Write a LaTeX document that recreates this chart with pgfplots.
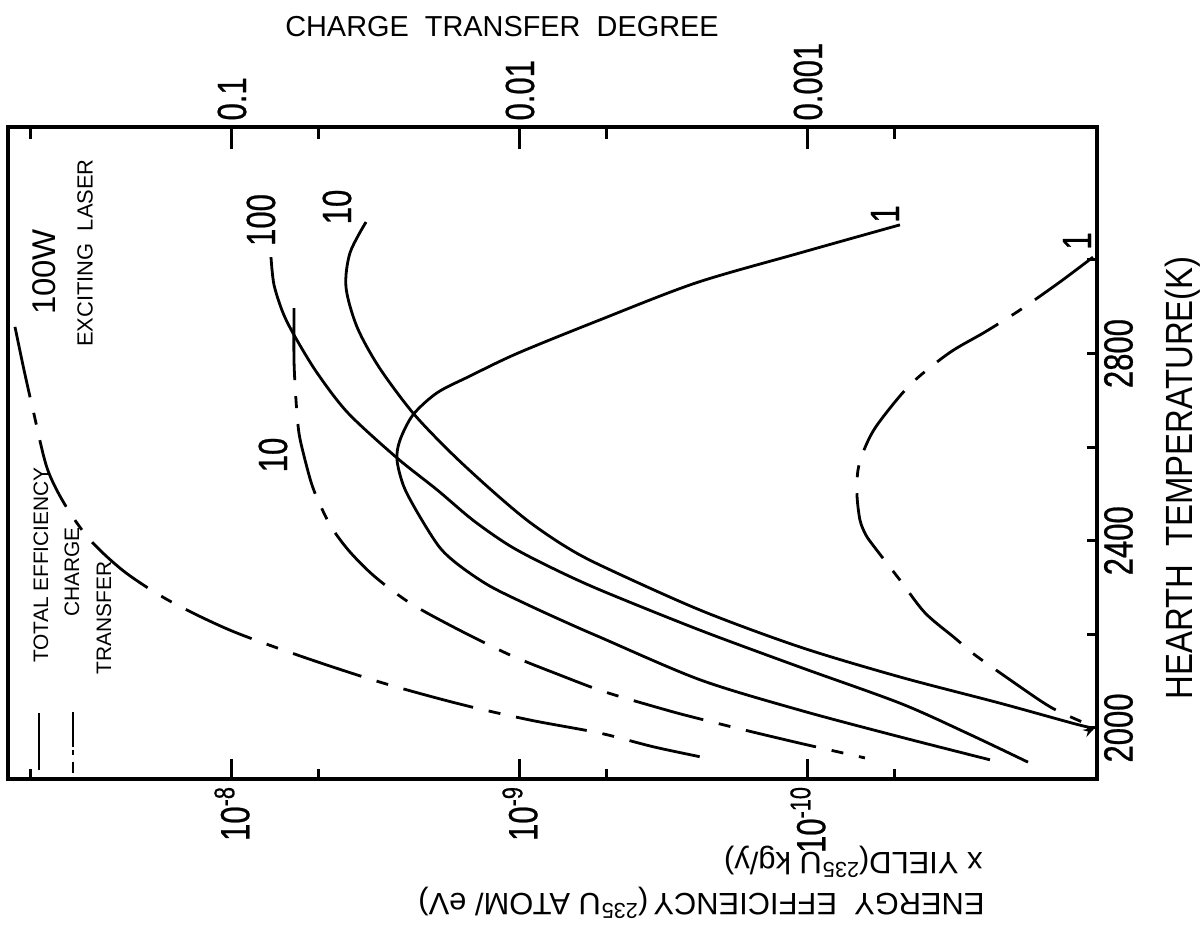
\documentclass[border=0pt]{standalone}
\usepackage{fontspec}
\setmainfont{Liberation Sans}
\newfontfamily\numfont{Liberation Sans}[FakeStretch=0.76, FakeBold=0.6]
\newfontfamily\condfont{Liberation Sans}[FakeStretch=0.87]
\usepackage{pgfplots}
\pgfplotsset{compat=1.18}
\usetikzlibrary{arrows.meta}

\newcommand\numsize{\numfont\fontsize{20.5}{22}\selectfont}

% x values are log10 of (energy efficiency x yield); y values are hearth temperature in K.
% The whole figure is laid out turned a quarter turn: temperature runs up the right side.
\pgfplotsset{
  frame/.style={
    at={(4bp,79.5bp)}, anchor=south west, scale only axis,
    width=544.5bp, height=325.75bp,
    x dir=reverse, tick align=inside,
    axis line style={line width=2bp},
    every tick/.style={black, line width=1.5bp},
  },
  curve/.style={black, line width=1.4bp, smooth, tension=0.5, mark=none},
  dashdot/.style={curve, dash pattern=on 36bp off 8bp on 6bp off 8bp},
}

\begin{document}
\begin{tikzpicture}
\useasboundingbox (0,0) rectangle (600.5bp,469bp);

% energy efficiency scale (bottom)
\begin{axis}[frame,
  xmin=-11.0035, xmax=-7.2222, ymin=0, ymax=1,
  ytick=\empty, xtick pos=left,
  xtick={-10,-9,-8},
  xticklabels={10\textsuperscript{-10},10\textsuperscript{-9},10\textsuperscript{-8}},
  minor xtick={-10.301,-9.301,-8.301,-7.301},
  major tick length=10bp, minor tick length=5bp,
  xticklabel style={rotate=90, anchor=east, font=\numsize},
]
\end{axis}

% charge transfer degree scale (top)
\begin{axis}[frame,
  xmin=-4.0035, xmax=-0.2222, ymin=0, ymax=1,
  ytick=\empty, xtick pos=right, xticklabel pos=right,
  xtick={-3,-2,-1},
  xticklabels={0.001,0.01,0.1},
  minor xtick={-3.301,-2.301,-1.301,-0.301},
  major tick length=11bp, minor tick length=6bp,
  xticklabel style={rotate=90, anchor=west, font=\numsize},
]
\end{axis}

% curves and hearth temperature scale
\begin{axis}[frame,
  xmin=-11.0035, xmax=-7.2222, ymin=1891, ymax=3283,
  xtick=\empty,
  ytick pos=right, yticklabel pos=right,
  ytick={2000,2400,2800}, yticklabels={2000,2400,2800},
  minor ytick={2200,2600,3000},
  major tick length=5bp, minor tick length=5bp,
  yticklabel style={rotate=90, anchor=north, font=\numsize},
]
% total efficiency, 100 W
\addplot[curve] coordinates {
  (-8.1354,3006) (-8.1458,2947) (-8.1771,2887) (-8.2188,2836) (-8.2951,2759)
  (-8.4028,2673) (-8.5729,2577) (-8.7118,2509) (-8.8368,2444) (-8.9653,2389)
  (-9.1042,2344) (-9.2778,2295) (-9.6250,2209) (-9.9722,2130) (-10.3194,2053)
  (-10.5521,1989) (-10.7639,1927)};
% total efficiency, 10 W
\addplot[curve, -{Stealth[length=6bp,width=4bp]}] coordinates {
  (-8.4653,3081) (-8.4097,3015) (-8.3958,2942) (-8.4340,2857) (-8.5104,2771)
  (-8.6285,2673) (-8.7604,2588) (-8.8993,2509) (-9.0243,2444) (-9.1493,2391)
  (-9.2778,2348) (-9.6250,2252) (-9.9722,2173) (-10.3194,2109) (-10.6667,2053)
  (-10.9444,2006) (-10.9965,2001)};
% total efficiency, 1 W
\addplot[curve] coordinates {
  (-10.3194,3075) (-9.9722,3015) (-9.6111,2951) (-9.2778,2872) (-8.9931,2801)
  (-8.8264,2752) (-8.7118,2716) (-8.6285,2669) (-8.5833,2615) (-8.5729,2573)
  (-8.5972,2515) (-8.6528,2451) (-8.7222,2385) (-8.7917,2346) (-8.8958,2303)
  (-9.0347,2261) (-9.1736,2222) (-9.2778,2194) (-9.6250,2103) (-9.9722,2038)
  (-10.3194,1981) (-10.6319,1932)};
% charge transfer, 100 W
\addplot[dashdot] coordinates {
  (-7.2465,2857) (-7.2778,2765) (-7.3090,2680) (-7.3576,2556) (-7.4201,2477)
  (-7.5069,2402) (-7.6285,2333) (-7.7847,2271) (-7.9931,2209) (-8.2361,2154)
  (-8.5139,2098) (-8.7917,2051) (-9.0347,2017) (-9.2778,1989) (-9.4687,1959)
  (-9.6771,1932)};
% charge transfer, 10 W
\addplot[dashdot] coordinates {
  (-8.2153,2897) (-8.2153,2786) (-8.2222,2701) (-8.2326,2630) (-8.2535,2573)
  (-8.2778,2519) (-8.3056,2477) (-8.3472,2427) (-8.4097,2376) (-8.4965,2323)
  (-8.6181,2267) (-8.7743,2214) (-8.9653,2156) (-9.1389,2113) (-9.2951,2077)
  (-9.5104,2038) (-9.6146,2021) (-9.7639,1998) (-9.8924,1979) (-9.9965,1964)
  (-10.1979,1936)};
% charge transfer, 1 W
\addplot[dashdot] coordinates {
  (-10.9896,3006) (-10.8750,2953) (-10.7361,2893) (-10.6146,2846) (-10.4896,2801)
  (-10.3542,2733) (-10.2396,2647) (-10.1944,2594) (-10.1736,2551) (-10.1701,2498)
  (-10.1806,2444) (-10.2014,2412) (-10.2326,2385) (-10.3194,2316) (-10.4063,2246)
  (-10.5104,2192) (-10.5799,2156) (-10.7014,2103) (-10.8125,2056) (-10.8750,2034)
  (-10.9965,2001)};
\end{axis}

% labels, in a frame of half-point units measured from the top left corner
\begin{scope}[x=0.5bp, y=-0.5bp, shift={(0,469bp)}]
  \node[rotate=90, font=\numsize] at (261,220) {100};
  \node[rotate=90, font=\numsize] at (337,207) {10};
  \node[rotate=90, font=\numsize] at (273,455) {10};
  \node[rotate=90, font=\numsize] at (885,214) {1};
  \node[rotate=90, font=\numsize] at (1077,241) {1};
  \node[rotate=90, font=\fontsize{16.5}{18}\selectfont] at (44,272) {100W};
  \node[rotate=90, font=\fontsize{11}{13}\selectfont] at (85,253) {EXCITING\ \ LASER};
  % key
  \draw[line width=1.3bp] (39,713) -- (39,770);
  \draw[line width=1.3bp, dash pattern=on 17.5bp off 1.5bp on 2.5bp off 3.5bp on 6bp] (73,712) -- (73,773);
  \node[rotate=90, font=\fontsize{10.5}{12}\selectfont] at (41,565) {TOTAL\ EFFICIENCY};
  \node[rotate=90, font=\fontsize{10.5}{12}\selectfont] at (72,572) {CHARGE};
  \node[rotate=90, font=\fontsize{10.5}{12}\selectfont] at (104,618) {TRANSFER};
  % axis titles
  \node[font=\fontsize{14.5}{16}\selectfont] at (502,27) {CHARGE\ \ TRANSFER\ \ DEGREE};
  \node[rotate=90, font=\condfont\fontsize{19}{21}\selectfont] at (1183,478) {HEARTH\ \ TEMPERATURE(K)};
  \node[rotate=180, anchor=west, inner sep=0pt, font=\fontsize{15.5}{17}\selectfont] at (985,903)
    {ENERGY\ \ EFFICIENCY\,(\textsuperscript{235}U ATOM/ eV)};
  \node[rotate=180, anchor=west, inner sep=0pt, font=\fontsize{15.5}{17}\selectfont] at (983,862)
    {x YIELD(\textsuperscript{235}U kg/y)};
\end{scope}
\end{tikzpicture}
\end{document}
